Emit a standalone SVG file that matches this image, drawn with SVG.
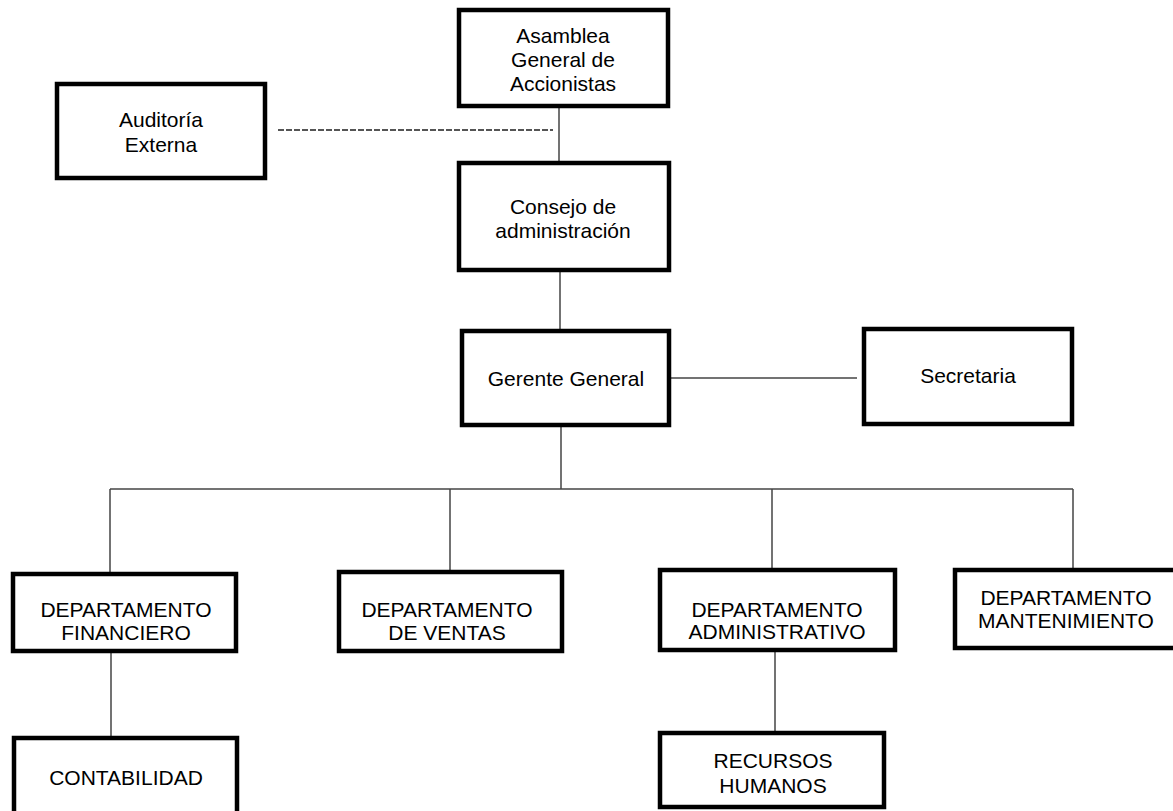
<svg xmlns="http://www.w3.org/2000/svg" width="1173" height="811" viewBox="0 0 1173 811">
<style>
.box{fill:#fff;stroke:#000;stroke-width:4.5}
.t{font-family:"Liberation Sans",Arial,sans-serif;font-size:21px;fill:#000;text-anchor:middle}
.c{stroke:#444;stroke-width:1.5;fill:none}
.d{stroke:#555;stroke-width:2;fill:none;stroke-dasharray:6 2}
</style>
<rect width="1173" height="811" fill="#fff"/>
<g id="connectors">
<line class="c" x1="559" y1="106" x2="559" y2="163"/>
<line class="d" x1="278" y1="130" x2="553" y2="130"/>
<line class="c" x1="560" y1="270" x2="560" y2="331"/>
<line class="c" x1="669" y1="378" x2="857" y2="378"/>
<line class="c" x1="561" y1="425" x2="561" y2="489"/>
<line class="c" x1="110" y1="489" x2="1073" y2="489"/>
<line class="c" x1="110" y1="489" x2="110" y2="574"/>
<line class="c" x1="450" y1="489" x2="450" y2="572"/>
<line class="c" x1="772" y1="489" x2="772" y2="570"/>
<line class="c" x1="1073" y1="489" x2="1073" y2="570"/>
<line class="c" x1="111" y1="651" x2="111" y2="738"/>
<line class="c" x1="775" y1="650" x2="775" y2="733"/>
</g>
<g id="asamblea">
<rect class="box" x="459" y="10" width="209" height="96"/>
<text class="t" x="563" y="43">Asamblea</text>
<text class="t" x="563" y="67">General de</text>
<text class="t" x="563" y="91">Accionistas</text>
</g>
<g id="auditoria">
<rect class="box" x="57" y="84" width="208" height="94"/>
<text class="t" x="161" y="127">Auditoría</text>
<text class="t" x="161" y="152">Externa</text>
</g>
<g id="consejo">
<rect class="box" x="459" y="163" width="210" height="107"/>
<text class="t" x="563" y="214">Consejo de</text>
<text class="t" x="563" y="238">administración</text>
</g>
<g id="gerente">
<rect class="box" x="462" y="331" width="207" height="94"/>
<text class="t" x="566" y="386">Gerente General</text>
</g>
<g id="secretaria">
<rect class="box" x="864" y="329" width="208" height="95"/>
<text class="t" x="968" y="383">Secretaria</text>
</g>
<g id="financiero">
<rect class="box" x="13" y="574" width="223" height="77"/>
<text class="t" x="126" y="617">DEPARTAMENTO</text>
<text class="t" x="126" y="640">FINANCIERO</text>
</g>
<g id="ventas">
<rect class="box" x="339" y="572" width="223" height="79"/>
<text class="t" x="447" y="617">DEPARTAMENTO</text>
<text class="t" x="447" y="640">DE VENTAS</text>
</g>
<g id="administrativo">
<rect class="box" x="660" y="570" width="235" height="80"/>
<text class="t" x="777" y="617">DEPARTAMENTO</text>
<text class="t" x="777" y="639">ADMINISTRATIVO</text>
</g>
<g id="mantenimiento">
<rect class="box" x="955" y="570" width="225" height="78"/>
<text class="t" x="1066" y="605">DEPARTAMENTO</text>
<text class="t" x="1066" y="628">MANTENIMIENTO</text>
</g>
<g id="contabilidad">
<rect class="box" x="14" y="738" width="223" height="80"/>
<text class="t" x="126" y="785">CONTABILIDAD</text>
</g>
<g id="rrhh">
<rect class="box" x="660" y="733" width="224" height="74"/>
<text class="t" x="773" y="768">RECURSOS</text>
<text class="t" x="773" y="793">HUMANOS</text>
</g>
</svg>
